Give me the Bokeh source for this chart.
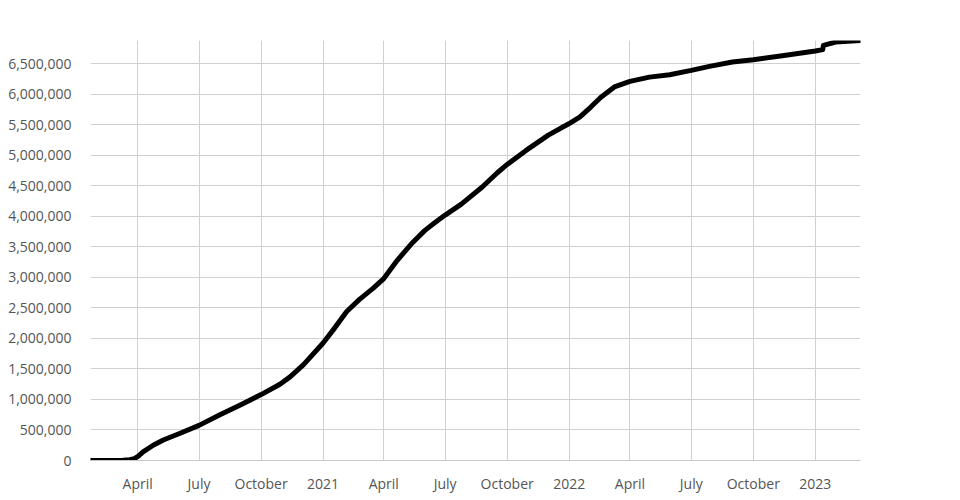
import pandas as pd
from bokeh.plotting import figure
from bokeh.models import FixedTicker, Range1d, NumeralTickFormatter
from bokeh.embed import file_html
from bokeh.resources import INLINE

# cumulative values
dates = ["2020-01-22", "2020-02-20", "2020-03-10", "2020-03-20", "2020-03-27",
         "2020-04-02", "2020-04-09", "2020-04-24", "2020-05-09", "2020-06-03",
         "2020-07-01", "2020-08-01", "2020-09-01", "2020-10-01", "2020-10-29",
         "2020-11-13", "2020-12-03", "2021-01-01", "2021-01-16", "2021-02-05",
         "2021-02-24", "2021-03-16", "2021-04-01", "2021-04-21", "2021-05-12",
         "2021-06-01", "2021-06-15", "2021-07-01", "2021-07-25", "2021-08-25",
         "2021-09-16", "2021-10-01", "2021-10-29", "2021-12-01", "2022-01-01",
         "2022-01-17", "2022-02-02", "2022-02-17", "2022-03-09", "2022-04-01",
         "2022-04-30", "2022-05-30", "2022-07-01", "2022-07-28", "2022-08-31",
         "2022-10-01", "2022-11-13", "2023-01-01", "2023-01-12", "2023-01-13",
         "2023-01-31", "2023-03-09"]
values = [0, 2000, 5000, 12000, 30000,
          70000, 140000, 250000, 335000, 447000,
          575000, 750000, 915000, 1080000, 1250000,
          1370000, 1570000, 1925000, 2140000, 2440000,
          2640000, 2820000, 2980000, 3280000, 3550000,
          3770000, 3890000, 4020000, 4200000, 4480000,
          4710000, 4850000, 5080000, 5330000, 5520000,
          5630000, 5790000, 5950000, 6120000, 6210000,
          6280000, 6320000, 6390000, 6456000, 6527000,
          6565000, 6630000, 6707000, 6730000, 6800000,
          6854000, 6880000]

tick_dates = ["2020-04-01", "2020-07-01", "2020-10-01", "2021-01-01",
              "2021-04-01", "2021-07-01", "2021-10-01", "2022-01-01",
              "2022-04-01", "2022-07-01", "2022-10-01", "2023-01-01"]
tick_labels = ["April", "July", "October", "2021", "April", "July", "October",
               "2022", "April", "July", "October", "2023"]
y_ticks = [i * 500000 for i in range(14)]

x = pd.to_datetime(dates)
def ms(d):
    return pd.Timestamp(d).value / 1e6

p = figure(width=952, height=495, x_axis_type="datetime",
           output_backend="svg", toolbar_location=None,
           min_border_left=90, min_border_right=92,
           min_border_top=40, min_border_bottom=35)
p.outline_line_color = None
p.x_range = Range1d(ms(dates[0]), ms(dates[-1]))
p.y_range = Range1d(0, 6880000)

p.line(x, values, line_color="black", line_width=5, line_join="round", line_cap="round")

tms = [ms(d) for d in tick_dates]
p.xaxis.ticker = FixedTicker(ticks=tms)
p.xaxis.major_label_overrides = {t: l for t, l in zip(tms, tick_labels)}
p.yaxis.ticker = FixedTicker(ticks=y_ticks)
p.yaxis.formatter = NumeralTickFormatter(format="0,0")

for ax in (p.xaxis, p.yaxis):
    ax.major_tick_line_color = None
    ax.minor_tick_line_color = None
    ax.major_tick_out = 0
    ax.major_tick_in = 0
    ax.major_label_text_font = "Open Sans"
    ax.major_label_text_font_size = "14px"
    ax.major_label_text_color = "#555555"
p.yaxis.axis_line_color = None
p.xaxis.axis_line_color = "#c8c8c8"
p.yaxis.major_label_standoff = 19
p.xaxis.major_label_standoff = 13

p.xgrid.grid_line_color = "#d0d0d0"
p.ygrid.grid_line_color = "#d0d0d0"

open("out.html", "w").write(file_html(p, INLINE))
